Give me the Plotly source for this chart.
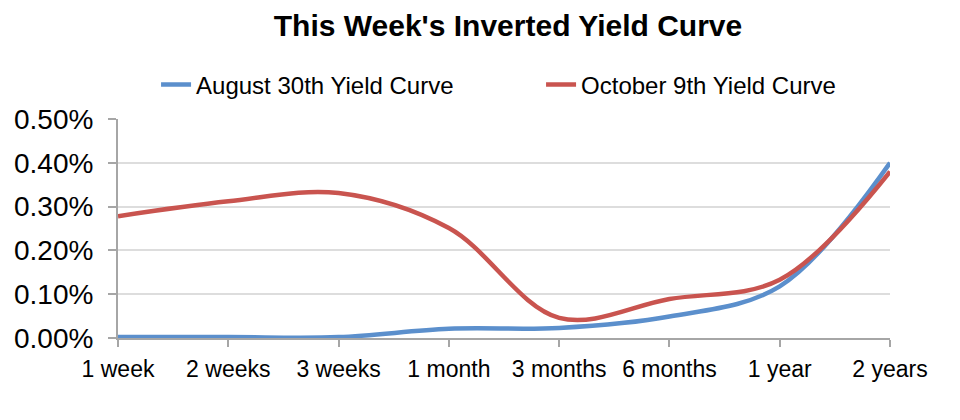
import plotly.graph_objects as go

categories = ["1 week", "2 weeks", "3 weeks", "1 month", "3 months", "6 months", "1 year", "2 years"]
aug30 = [0.002, 0.002, 0.002, 0.021, 0.023, 0.049, 0.118, 0.400]
oct9 = [0.278, 0.312, 0.331, 0.251, 0.046, 0.089, 0.133, 0.380]
y_ticks = [0.0, 0.1, 0.2, 0.3, 0.4, 0.5]
y_tick_labels = ["0.00%", "0.10%", "0.20%", "0.30%", "0.40%", "0.50%"]

FONT = "Liberation Sans, Arial, sans-serif"
BLUE = "#5B8FCC"
RED = "#C9544F"

fig = go.Figure()
fig.add_trace(go.Scatter(x=categories, y=aug30, mode="lines", name="August 30th Yield Curve",
                         line=dict(color=BLUE, width=4.5, shape="spline", smoothing=1.0)))
fig.add_trace(go.Scatter(x=categories, y=oct9, mode="lines", name="October 9th Yield Curve",
                         line=dict(color=RED, width=4.5, shape="spline", smoothing=1.0)))

fig.update_layout(
    width=960, height=420,
    margin=dict(l=110, r=78, t=111, b=90, autoexpand=False),
    paper_bgcolor="white", plot_bgcolor="white",
    font=dict(family=FONT, color="#000000", size=23),
    title=dict(text="<b>This Week's Inverted Yield Curve</b>", x=500 / 960, xanchor="center",
               y=1 - 7 / 420, yanchor="top", pad=dict(t=0, b=0, l=0, r=0), font=dict(size=30, family=FONT)),
    legend=dict(orientation="h", x=0.548, xanchor="center", y=1 + 34 / 219, yanchor="middle",
                font=dict(size=24, family=FONT), entrywidth=340, entrywidthmode="pixels",
                bgcolor="rgba(0,0,0,0)"),
    showlegend=True,
    hovermode=False,
)
fig.update_xaxes(type="category", range=[0, 7], showgrid=False, showline=True, linecolor="#A6A6A6",
                 linewidth=2, ticks="outside", ticklen=7, tickcolor="#A6A6A6", tickwidth=2,
                 ticklabelstandoff=2, automargin=False, tickfont=dict(size=23, family=FONT))
fig.update_yaxes(range=[0, 0.5], tickvals=y_ticks, ticktext=y_tick_labels, showgrid=True,
                 gridcolor="#DDDDDD", gridwidth=2, showline=True, linecolor="#A6A6A6", linewidth=2,
                 ticks="outside", ticklen=8, tickcolor="#A6A6A6", tickwidth=2, zeroline=False,
                 ticklabelstandoff=9, automargin=False, tickfont=dict(size=28, family=FONT))

fig.write_html("out.html")
